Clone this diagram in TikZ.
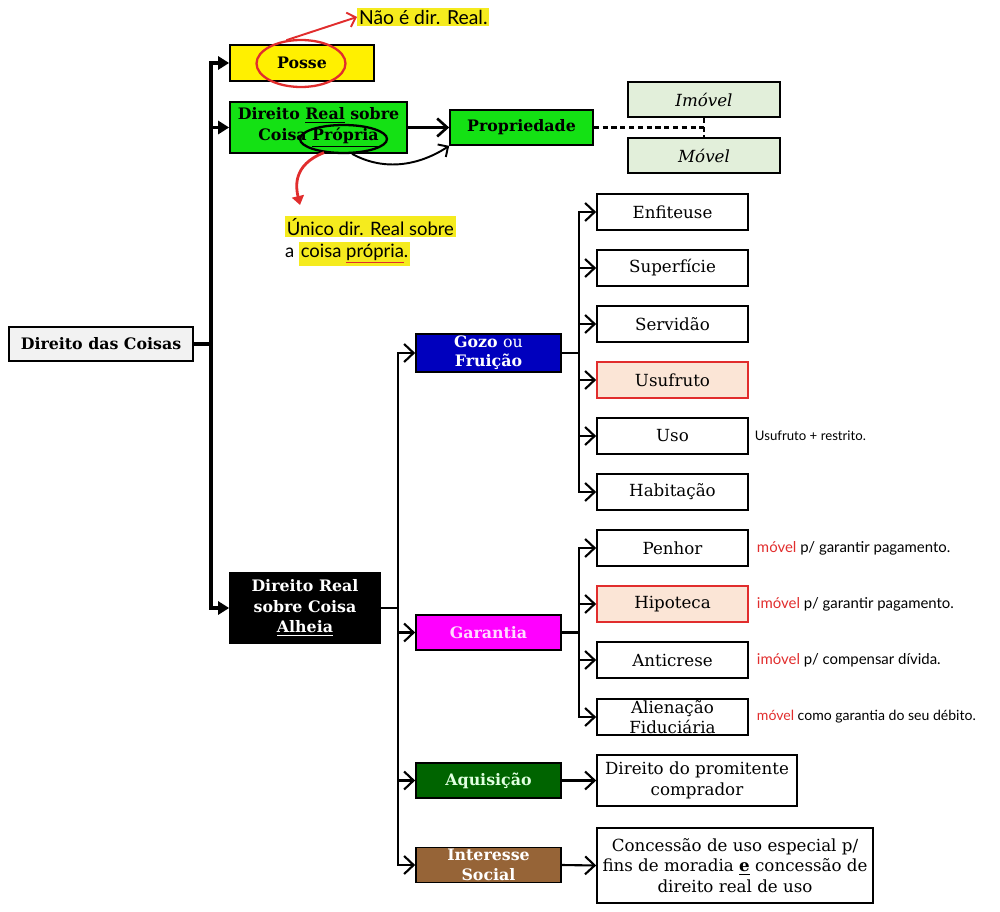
\documentclass[tikz,border=0pt]{standalone}
\usepackage{fontspec}
\setmainfont{DejaVu Serif}
\newfontfamily\handfont{Lato}
\usetikzlibrary{arrows.meta,shapes.geometric,positioning}
\definecolor{cinza}{RGB}{242,242,242}
\definecolor{amarelo}{RGB}{255,240,0}
\definecolor{verde}{RGB}{20,225,20}
\definecolor{verdeclaro}{RGB}{226,239,218}
\definecolor{azul}{RGB}{0,0,190}
\definecolor{magenta2}{RGB}{255,0,255}
\definecolor{verdeescuro}{RGB}{0,100,0}
\definecolor{marrom}{RGB}{150,100,55}
\definecolor{rosa}{RGB}{251,229,214}
\definecolor{vermelho}{RGB}{225,45,45}
\definecolor{hly}{RGB}{245,235,30}
\newcommand{\hlmark}[1]{{\setlength{\fboxsep}{1pt}\colorbox{hly}{#1}}}
\newcommand{\redline}[1]{\textcolor{vermelho}{\underline{\textcolor{black}{#1}}}}

\begin{document}
\begin{tikzpicture}[x=0.02cm,y=-0.02cm,
  every node/.style={font=\fontsize{9.5}{11.6}\selectfont},
  box/.style={draw=black,line width=1pt,align=center,inner sep=1pt},
  leaf/.style={box,minimum width=3.02cm,minimum height=0.72cm},
  bbox/.style={box,font=\bfseries\fontsize{9}{11.8}\selectfont},
  catbox/.style={bbox,minimum width=2.9cm,minimum height=0.7cm,text=white,font=\bfseries\fontsize{9}{11}\selectfont},
  main/.style={line width=1.8pt},
  sub/.style={line width=1.2pt},
  fillarr/.style={main,-{Triangle[length=2.2mm,width=2.6mm]}},
  openarr/.style={sub,-{Straight Barb[length=1.9mm,width=3.6mm]}},
  note/.style={font=\handfont\fontsize{8.5}{11}\selectfont,inner sep=1pt,anchor=west},
]
\useasboundingbox (0,0) rectangle (1000,912);

\node[bbox,fill=cinza,minimum width=3.68cm,minimum height=0.68cm] (coisas) at (101,344) {Direito das Coisas};
\node[bbox,fill=amarelo,minimum width=2.88cm,minimum height=0.72cm] (posse) at (302,63) {Posse};
\node[bbox,fill=verde,minimum width=3.54cm,minimum height=1.02cm] (drcp) at (318.5,127.5) {Direito \underline{Real} sobre\\Coisa \underline{Própria}};
\node[bbox,fill=verde,minimum width=2.86cm,minimum height=0.7cm] (propriedade) at (521.5,127.5) {Propriedade};
\node[box,fill=verdeclaro,minimum width=3.04cm,minimum height=0.7cm,font=\itshape\fontsize{9.5}{11}\selectfont] (imovel) at (704,99.5) {Imóvel};
\node[box,fill=verdeclaro,minimum width=3.04cm,minimum height=0.7cm,font=\itshape\fontsize{9.5}{11}\selectfont] (movel) at (704,155.5) {Móvel};
\node[bbox,fill=black,text=white,minimum width=3cm,minimum height=1.4cm] (drca) at (305,608) {Direito Real\\sobre Coisa\\\underline{Alheia}};

\node[catbox,fill=azul] (gozo) at (488.5,353) {Gozo \mdseries ou\\Fruição};
\node[catbox,fill=magenta2,text=white!85!magenta2] (garantia) at (488.5,632.5) {Garantia};
\node[catbox,fill=verdeescuro,text=white!88!green] (aquisicao) at (488.5,780.5) {Aquisição};
\node[catbox,fill=marrom] (interesse) at (488.5,865) {Interesse\\Social};

\node[leaf] (enfiteuse) at (672.5,212) {Enfiteuse};
\node[leaf] (superficie) at (672.5,268) {Superfície};
\node[leaf] (servidao) at (672.5,324) {Servidão};
\node[leaf,fill=rosa,draw=vermelho] (usufruto) at (672.5,380) {Usufruto};
\node[leaf] (uso) at (672.5,436) {Uso};
\node[leaf] (habitacao) at (672.5,492) {Habitação};

\node[leaf] (penhor) at (672.5,548) {Penhor};
\node[leaf,fill=rosa,draw=vermelho] (hipoteca) at (672.5,604) {Hipoteca};
\node[leaf] (anticrese) at (672.5,660) {Anticrese};
\node[leaf] (alienacao) at (672.5,717) {};
\node[align=center,inner sep=0pt,font=\fontsize{9.5}{11}\selectfont] (alienacaotxt) at (alienacao) {Alienação\\Fiduciária};

\node[box,minimum width=4cm,minimum height=1.02cm] (promitente) at (697,780.5) {Direito do promitente\\comprador};
\node[box,minimum width=5.52cm,minimum height=1.5cm] (concessao) at (735,865.5) {Concessão de uso especial p/\\fins de moradia \underline{\textbf{e}} concessão de\\direito real de uso};

\coordinate (j1) at (211,344);
\draw[main] (coisas.east) -- (j1);
\draw[fillarr] (j1) |- (posse.west);
\draw[fillarr] (j1) |- (drcp.west);
\draw[fillarr] (j1) |- (drca.west);

\draw[line width=1.5pt,-{Straight Barb[length=2mm,width=3.6mm]}] (drcp.east) -- (propriedade.west);
\draw[line width=1.2pt,dash pattern=on 3pt off 2pt] (propriedade.east) -- (propriedade.east -| imovel.south);
\draw[line width=1.2pt,dash pattern=on 3pt off 2pt] (imovel.south) -- (movel.north);

\coordinate (j2) at (398,608);
\draw[sub] (drca.east) -- (j2);
\foreach \n in {gozo,garantia,aquisicao,interesse}
  \draw[openarr] (j2) |- (\n.west);

\coordinate (j3) at (579,353);
\draw[sub] (gozo.east) -- (j3);
\foreach \n in {enfiteuse,superficie,servidao,usufruto,uso,habitacao}
  \draw[openarr] (j3) |- (\n.west);

\coordinate (j4) at (579,632.5);
\draw[sub] (garantia.east) -- (j4);
\foreach \n in {penhor,hipoteca,anticrese,alienacao}
  \draw[openarr] (j4) |- (\n.west);

\draw[openarr] (aquisicao.east) -- (promitente.west);
\draw[openarr] (interesse.east) -- (concessao.west);

\node[note,fill=hly,font=\handfont\fontsize{11}{13}\selectfont] (naoreal) at (357,17) {Não é dir. Real.};
\node[draw=vermelho,line width=1.3pt,ellipse,minimum width=1.78cm,minimum height=0.94cm] (posseoval) at (301,63.5) {};
\draw[vermelho,line width=1.1pt,-{Straight Barb[length=1.5mm,width=3mm]}] (posseoval.122) -- (naoreal.west);

\node[draw=black,line width=1.3pt,ellipse,minimum width=1.74cm,minimum height=0.56cm] (propoval) at (343.5,139) {};
\draw[line width=1.1pt,-{Straight Barb[length=1.5mm,width=3mm]}] (propoval.-60) .. controls (385,172) and (420,165) .. (propriedade.south west);

\coordinate (unicotip) at (300,205);
\draw[vermelho,line width=1.6pt,-{Triangle[length=1.8mm,width=2.4mm]}] (propoval.215) .. controls (292,165) and (296,188) .. (unicotip);
\node[note,align=left,font=\handfont\fontsize{10.5}{12.5}\selectfont] (unico) at (283,241) {\hlmark{Único dir. Real sobre}\\a \hlmark{coisa \redline{própria}.}};

\node[note,font=\handfont\fontsize{7.5}{9}\selectfont,right=0.08cm of uso] (usonota) {Usufruto + restrito.};
\node[note,right=0.12cm of penhor] (penhornota) {\textcolor{vermelho}{móvel} p/ garantir pagamento.};
\node[note,right=0.12cm of hipoteca] (hipotecanota) {\textcolor{vermelho}{imóvel} p/ garantir pagamento.};
\node[note,right=0.12cm of anticrese] (anticresenota) {\textcolor{vermelho}{imóvel} p/ compensar dívida.};
\node[note,font=\handfont\fontsize{8}{10}\selectfont,right=0.12cm of alienacao] (alienacaonota) {\textcolor{vermelho}{móvel} como garantia do seu débito.};
\end{tikzpicture}
\end{document}
